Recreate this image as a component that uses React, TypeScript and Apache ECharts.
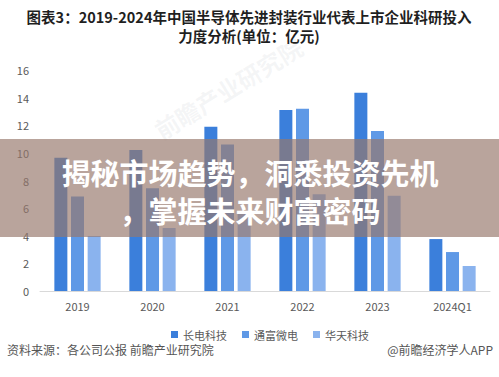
import React, { useEffect, useRef } from "react";
import * as echarts from "echarts";

const categories = ["2019", "2020", "2021", "2022", "2023", "2024Q1"];
const seriesNames = ["长电科技", "通富微电", "华天科技"];
const changdian = [9.65, 10.2, 11.9, 13.1, 14.36, 3.76];
const tongfu = [6.85, 7.43, 10.6, 13.2, 11.58, 2.82];
const huatian = [3.98, 4.56, 5.8, 7.0, 6.9, 1.81];
const colors = ["#3b7fdb", "#5f99e6", "#8ab3ee"];
const titleLines = ["图表3：2019-2024年中国半导体先进封装行业代表上市企业科研投入", "力度分析(单位：亿元)"];
const bannerLines = ["揭秘市场趋势，洞悉投资先机", "，掌握未来财富密码"];
const sourceText = "资料来源：各公司公报 前瞻产业研究院";
const brandText = "@前瞻经济学人APP";
const watermark = "前瞻产业研究院";

const FONT = "Noto Sans CJK SC";

export default function App() {
  const ref = useRef<HTMLDivElement>(null);
  useEffect(() => {
    if (!ref.current) return;
    const chart = echarts.init(ref.current, null, { renderer: "svg" });
    const dataSets = [changdian, tongfu, huatian];
    const plain = (text: string, x: number, y: number, size: number, weight: string, fill: string, align: string, z = 5, extra: any = {}) => ({
      type: "text",
      x,
      y,
      z,
      style: {
        text,
        fill,
        fontSize: size,
        fontWeight: weight,
        fontFamily: FONT,
        align,
        verticalAlign: "middle",
        ...extra,
      },
    });
    chart.setOption({
      animation: false,
      textStyle: { fontFamily: FONT },
      grid: { left: 40, right: 9, top: 70, bottom: 86 },
      legend: {
        left: 166,
        top: 324,
        itemWidth: 7,
        itemHeight: 7,
        itemGap: 15,
        icon: "rect",
        textStyle: { fontSize: 11, color: "#595959", fontFamily: FONT },
        data: seriesNames,
      },
      xAxis: {
        type: "category",
        data: categories,
        axisLine: { lineStyle: { color: "#d9d9d9" } },
        axisTick: { show: false },
        axisLabel: { color: "#595959", fontSize: 11, margin: 9, fontFamily: FONT },
      },
      yAxis: {
        type: "value",
        min: 0,
        max: 16,
        interval: 2,
        splitLine: { show: false },
        axisLine: { show: false },
        axisTick: { show: false },
        axisLabel: { color: "#595959", fontSize: 11, margin: 11, fontFamily: FONT },
      },
      series: seriesNames.map((name, i) => ({
        name,
        type: "bar",
        data: dataSets[i],
        barWidth: 13,
        barGap: "28%",
        itemStyle: { color: colors[i] },
        z: 2,
      })),
      graphic: [
        {
          type: "text",
          x: 228,
          y: 88,
          rotation: 0.55,
          z: 1,
          silent: true,
          style: {
            text: watermark,
            fill: "rgba(170,178,190,0.13)",
            fontSize: 24,
            fontWeight: "bold",
            fontFamily: FONT,
            align: "center",
            verticalAlign: "middle",
          },
        },
        plain(titleLines[0], 249, 16.5, 14.5, "bold", "#1f1f1f", "center"),
        plain(titleLines[1], 249, 35.5, 14.5, "bold", "#1f1f1f", "center"),
        {
          type: "rect",
          shape: { x: 0, y: 139, width: 499, height: 98 },
          style: { fill: "rgba(150,120,108,0.67)" },
          z: 10,
        },
        plain(bannerLines[0], 250, 171.5, 29, "bold", "#ffffff", "center", 11, {
          shadowColor: "rgba(0,0,0,0.25)",
          shadowBlur: 2,
        }),
        plain(bannerLines[1], 250, 209.5, 29, "bold", "#ffffff", "center", 11, {
          shadowColor: "rgba(0,0,0,0.25)",
          shadowBlur: 2,
        }),
        plain(sourceText, 7, 349, 12, "normal", "#555555", "left"),
        plain(brandText, 493, 349, 12, "normal", "#555555", "right"),
      ],
    });
    return () => chart.dispose();
  }, []);
  return (
    <div
      ref={ref}
      style={{ position: "fixed", left: 0, top: 0, width: 499, height: 377, background: "#ffffff" }}
    />
  );
}
